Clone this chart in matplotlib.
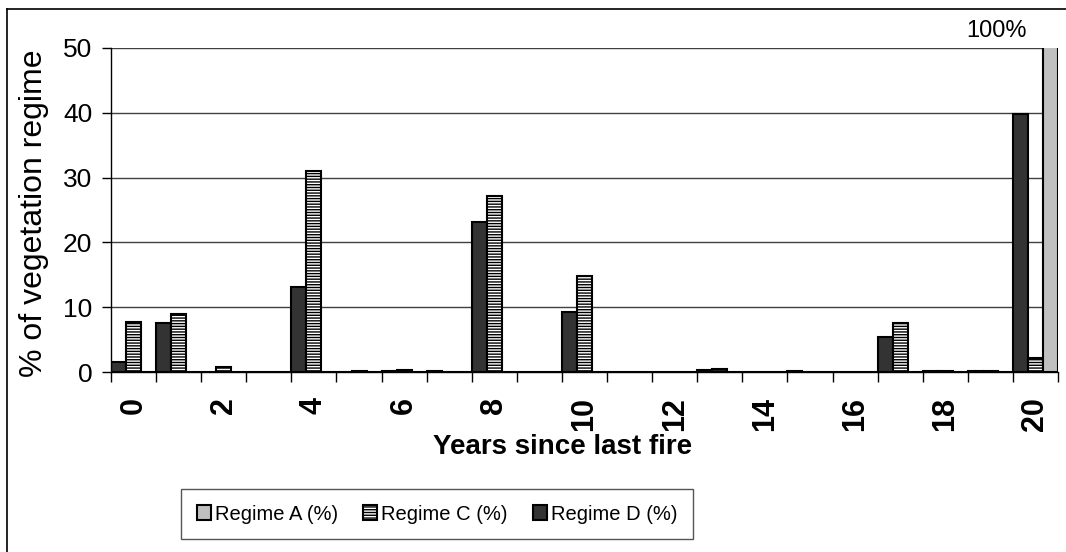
import numpy as np
import matplotlib
matplotlib.use("Agg")
import matplotlib.pyplot as plt
from matplotlib.lines import Line2D

plt.rcParams['font.family'] = ['Liberation Sans', 'DejaVu Sans']
plt.rcParams['hatch.linewidth'] = 1.0

# years since last fire (categories 0..20)
years = list(range(21))
tick_years = [0, 2, 4, 6, 8, 10, 12, 14, 16, 18, 20]

# % of vegetation regime
regime_a = [0, 0, 0, 0, 0, 0, 0, 0, 0, 0, 0, 0, 0, 0, 0, 0, 0, 0, 0, 0, 100]
regime_c = [7.7, 8.9, 0.8, 0, 31.0, 0.2, 0.3, 0, 27.2, 0, 14.8, 0, 0, 0.4, 0, 0, 0, 7.5, 0.2, 0.2, 2.1]
regime_d = [1.5, 7.6, 0, 0, 13.1, 0, 0.2, 0.2, 23.2, 0, 9.2, 0, 0, 0.3, 0, 0.2, 0, 5.4, 0.2, 0.2, 39.8]


def main():
    fig = plt.figure(figsize=(10.66, 5.52), dpi=100)
    ax = fig.add_axes([111 / 1066, 1 - 372 / 552, 947 / 1066, 324 / 552])

    x = np.array(years)
    w = 1 / 3
    bd = ax.bar(x - w, regime_d, w, color='#333333', edgecolor='black', linewidth=1.5,
                label='Regime D (%)')
    bc = ax.bar(x, regime_c, w, color='white', edgecolor='black', linewidth=1.5,
                hatch='------', label='Regime C (%)')
    ba = ax.bar(x + w, regime_a, w, color='#c0c0c0', edgecolor='black', linewidth=1.5,
                label='Regime A (%)')

    ax.set_xlim(-0.5, 20.5)
    ax.set_ylim(0, 50)
    ax.set_yticks(range(0, 51, 10))
    ax.yaxis.grid(True, color='#404040', linewidth=1.0)
    ax.set_axisbelow(True)

    for s in ['top', 'right']:
        ax.spines[s].set_visible(False)
    ax.spines['left'].set_linewidth(1.0)
    ax.spines['bottom'].set_linewidth(1.0)

    # tick marks at category boundaries, labels at category centres
    ax.set_xticks(tick_years)
    ax.set_xticklabels([str(t) for t in tick_years], rotation=90, fontweight='bold',
                       fontsize=22)
    ax.set_xticks(np.arange(-0.5, 21, 1), minor=True)
    ax.tick_params(axis='x', which='major', length=0, pad=18)
    ax.tick_params(axis='x', which='minor', length=7, width=1, direction='out')
    ax.tick_params(axis='y', length=6.5, width=1, pad=7, labelsize=19)

    ax.set_ylabel('% of vegetation regime', fontsize=23)
    ax.yaxis.set_label_coords(-0.081, 0.49)
    ax.yaxis.label.set_va('center')
    ax.set_xlabel('Years since last fire', fontsize=20, fontweight='bold')
    ax.xaxis.set_label_coords(0.477, -0.232)
    ax.xaxis.label.set_va('center')

    ax.text(19.81, 52.6, '100%', ha='right', va='center', fontsize=17, clip_on=False)

    leg = fig.legend(handles=[ba, bc, bd], loc='center', ncol=3,
                     bbox_to_anchor=(437 / 1066, 1 - 514 / 552),
                     prop={'size': 14.5},
                     fancybox=False, edgecolor='#555555', framealpha=1,
                     handlelength=0.7, handleheight=0.7, handletextpad=0.2,
                     columnspacing=1.25, borderpad=0.75)
    leg.get_frame().set_linewidth(1.0)

    # outer chart border (top and left)
    fig.add_artist(Line2D([7 / 1066, 1], [1 - 9 / 552, 1 - 9 / 552], color='black', lw=1.2))
    fig.add_artist(Line2D([7 / 1066, 7 / 1066], [0, 1 - 9 / 552], color='black', lw=1.2))

    fig.savefig('out.png', dpi=100)


if __name__ == '__main__':
    main()
